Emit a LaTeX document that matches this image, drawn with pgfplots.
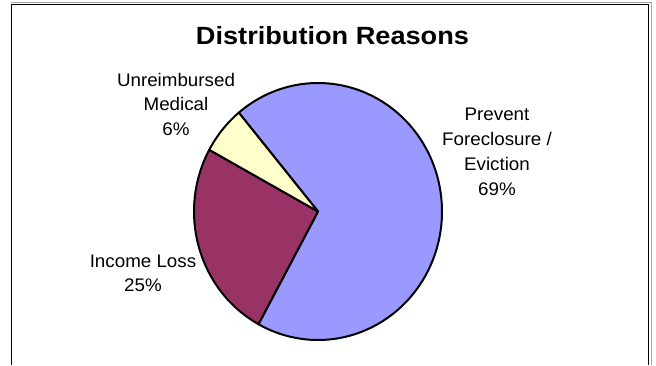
\documentclass[border=0pt]{standalone}
\usepackage{pgfplots}
\pgfplotsset{compat=1.18}
\usepackage{fontspec}
\setmainfont{Liberation Sans}
\definecolor{prevent}{HTML}{9999FF}
\definecolor{income}{HTML}{993366}
\definecolor{medical}{HTML}{FFFFCC}
% pie values (percent), clockwise order
\def\vPrevent{69}
\def\vIncome{25}
\def\vMedical{6}
\def\cx{318}\def\cy{153.5}\def\rx{124}\def\ry{128.5}
\pgfmathsetmacro\aA{129.7}
\pgfmathsetmacro\aB{\aA-\vPrevent*3.6}
\pgfmathsetmacro\aC{\aB-\vIncome*3.6}
\pgfmathsetmacro\aD{\aC-\vMedical*3.6}
\begin{document}
\begin{tikzpicture}[x=1bp,y=1bp]
\useasboundingbox (0,0) rectangle (656,365);
\draw[gray!70, line width=1.2bp] (11,362.3) -- (651.5,362.3) -- (651.5,0);
\draw[black, line width=1.3bp] (11.7,0) -- (11.7,360.5) -- (648.5,360.5) -- (648.5,0);
\begin{axis}[at={(0,0)}, anchor=origin, x=1bp, y=1bp, xmin=0, xmax=656, ymin=0, ymax=365, hide axis, clip=false]
\addplot[fill=prevent, draw=black, line width=2bp, line join=round, domain=\aB:\aA, samples=150] ({\cx+\rx*cos(x)},{\cy+\ry*sin(x)}) -- (axis cs:\cx,\cy) -- cycle;
\addplot[fill=income, draw=black, line width=2bp, line join=round, domain=\aC:\aB, samples=80] ({\cx+\rx*cos(x)},{\cy+\ry*sin(x)}) -- (axis cs:\cx,\cy) -- cycle;
\addplot[fill=medical, draw=black, line width=2bp, line join=round, domain=\aD:\aC, samples=30] ({\cx+\rx*cos(x)},{\cy+\ry*sin(x)}) -- (axis cs:\cx,\cy) -- cycle;
\end{axis}
\node[font=\bfseries\fontsize{25}{28}\selectfont, xscale=1.09, anchor=base, inner sep=0] at (332.5,320.3) {Distribution Reasons};
\begin{scope}[every node/.style={font=\fontsize{18.3}{21}\selectfont, xscale=1.03, anchor=base, inner sep=0}]
\node at (497,245) {Prevent};
\node at (497,220) {Foreclosure /};
\node at (497,195) {Eviction};
\node at (497,170) {69\%};
\node at (176,279) {Unreimbursed};
\node at (176,255) {Medical};
\node at (176,230) {6\%};
\node at (143,97.7) {Income Loss};
\node at (143,73.3) {25\%};
\end{scope}
\end{tikzpicture}
\end{document}
